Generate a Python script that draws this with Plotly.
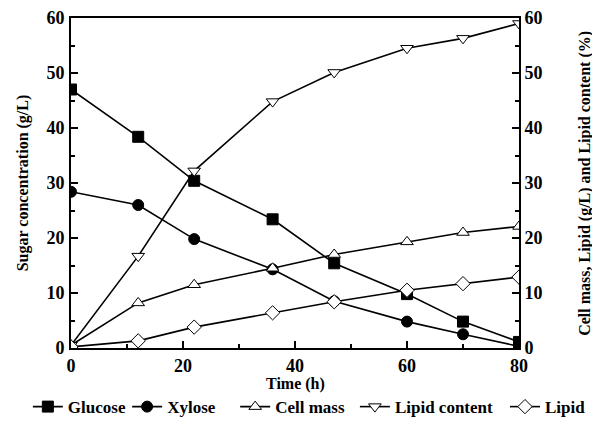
import plotly.graph_objects as go

time_h = [0, 12, 22, 36, 47, 60, 70, 80]
glucose = [47.0, 38.4, 30.4, 23.4, 15.4, 9.8, 4.8, 1.1]
xylose = [28.4, 26.0, 19.8, 14.3, 8.5, 4.8, 2.5, 0.3]
cell_mass = [0.5, 8.2, 11.5, 14.5, 17.0, 19.3, 21.0, 22.1]
lipid_content = [0.5, 16.7, 32.2, 44.8, 50.1, 54.5, 56.3, 59.0]
lipid = [0.2, 1.3, 3.8, 6.4, 8.4, 10.5, 11.7, 12.9]

FONT = "Liberation Serif"

fig = go.Figure()

def add(name, y, symbol, fill, axis, legend):
    fig.add_trace(go.Scatter(
        x=time_h, y=y, name=name, mode="lines+markers", yaxis=axis, legend=legend,
        line=dict(color="black", width=1.6),
        marker=dict(symbol=symbol, size=11, color=fill,
                    line=dict(color="black", width=1)),
    ))

add("Glucose", glucose, "square", "black", "y", "legend")
add("Xylose", xylose, "circle", "black", "y", "legend2")
add("Cell mass", cell_mass, "triangle-up", "white", "y2", "legend3")
add("Lipid content", lipid_content, "triangle-down", "white", "y2", "legend4")
add("Lipid", lipid, "diamond", "white", "y2", "legend5")

tickfont = dict(family=FONT, size=18, color="black", weight="bold")
titlefont = dict(family=FONT, size=16, color="black", weight="bold")
legfont = dict(family=FONT, size=17, color="black", weight="bold")

def leg(x):
    return dict(orientation="h", xref="container", x=x, xanchor="left",
                yref="container", y=0.043, yanchor="middle",
                font=legfont, itemwidth=30, tracegroupgap=0,
                bgcolor="rgba(0,0,0,0)")

fig.update_layout(
    width=584, height=417,
    margin=dict(l=63, r=73, t=10, b=77, autoexpand=False),
    plot_bgcolor="white", paper_bgcolor="white",
    showlegend=True,
    legend=leg(0.034), legend2=leg(0.204), legend3=leg(0.389),
    legend4=leg(0.594), legend5=leg(0.851),
    xaxis=dict(range=[0, 80], dtick=20, tick0=0, ticks="inside", ticklen=7,
               tickwidth=1.5, tickcolor="black", showgrid=False, zeroline=False,
               showline=True, linecolor="black", linewidth=2, mirror=True,
               tickfont=tickfont,
               minor=dict(dtick=10, ticks="inside", ticklen=4, tickcolor="black", tickwidth=1.5)),
    yaxis=dict(range=[0, 60], dtick=10, tick0=0, ticks="inside", ticklen=7,
               tickwidth=1.5, tickcolor="black", showgrid=False, zeroline=False,
               showline=True, linecolor="black", linewidth=2,
               tickfont=tickfont, ticklabelstandoff=1, automargin=True,
               minor=dict(dtick=5, ticks="inside", ticklen=4, tickcolor="black", tickwidth=1.5),
               title=dict(text="Sugar concentration (g/L)", font=titlefont, standoff=14)),
    yaxis2=dict(range=[0, 60], dtick=10, tick0=0, ticks="inside", ticklen=7,
                tickwidth=1.5, tickcolor="black", showgrid=False, zeroline=False,
                showline=True, linecolor="black", linewidth=2,
                overlaying="y", side="right", tickfont=tickfont, ticklabelstandoff=0,
                minor=dict(dtick=5, ticks="inside", ticklen=4, tickcolor="black", tickwidth=1.5)),
    annotations=[
        dict(text="Time (h)", xref="paper", yref="paper", x=0.5, y=-0.109,
             xanchor="center", yanchor="middle", showarrow=False, font=titlefont),
        dict(text="Cell mass, Lipid (g/L) and Lipid content (%)", xref="paper", yref="paper",
             x=1.147, y=0.5, xanchor="center", yanchor="middle", textangle=-90,
             showarrow=False, font=titlefont),
    ],
)

fig.write_html("out.html")
